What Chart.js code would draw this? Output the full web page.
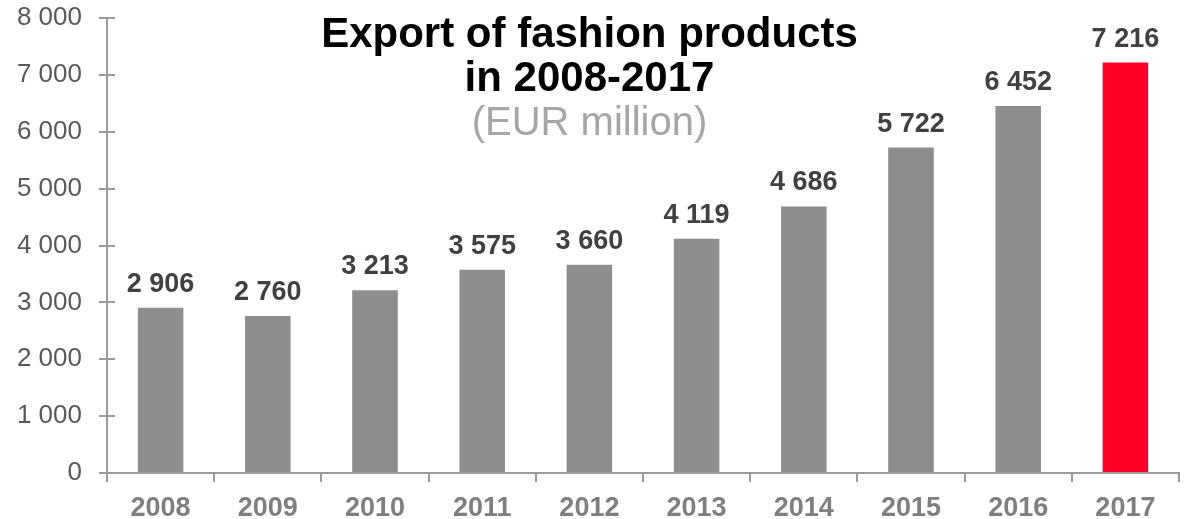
<!DOCTYPE html>
<html>
<head>
<meta charset="utf-8">
<script src="https://cdn.jsdelivr.net/npm/chart.js@4/dist/chart.umd.min.js"></script>
<style>
  html, body { margin: 0; padding: 0; background: #ffffff; }
  #wrap { width: 1189px; height: 519px; position: relative; }
</style>
</head>
<body>
<div id="wrap"><canvas id="chart" width="1189" height="519"></canvas></div>
<script>
// Export of fashion products, EUR million
const years = ['2008', '2009', '2010', '2011', '2012', '2013', '2014', '2015', '2016', '2017'];
const exportValues = [2906, 2760, 3213, 3575, 3660, 4119, 4686, 5722, 6452, 7216];
const titleLines = ['Export of fashion products', 'in 2008-2017'];
const subtitleText = '(EUR million)';
const yMin = 0;
const yMax = 8000;
const yStep = 1000;

const FONT = '"Liberation Sans", Arial, sans-serif';
const GREY_BAR = '#8f8e8c';
const RED_BAR = '#ff0029';
const AXIS = '#9a9a9a';

const barColors = years.map((y, i) => i === years.length - 1 ? RED_BAR : GREY_BAR);

// thousands separated by a space: 7216 -> "7 216"
function spaced(v) {
  return String(v).replace(/\B(?=(\d{3})+(?!\d))/g, ' ');
}

// short tick stubs on the inner side of the value axis
const innerTicks = {
  id: 'innerTicks',
  afterDraw(chart) {
    const y = chart.scales.y;
    const ctx = chart.ctx;
    ctx.save();
    ctx.strokeStyle = AXIS;
    ctx.lineWidth = 2;
    y.ticks.forEach(t => {
      const py = Math.round(y.getPixelForValue(t.value));
      ctx.beginPath();
      ctx.moveTo(y.right, py);
      ctx.lineTo(y.right + 8, py);
      ctx.stroke();
    });
    ctx.restore();
  }
};

// value labels above each bar
const valueLabels = {
  id: 'valueLabels',
  afterDatasetsDraw(chart) {
    const ctx = chart.ctx;
    const meta = chart.getDatasetMeta(0);
    ctx.save();
    ctx.font = 'bold 27px ' + FONT;
    ctx.fillStyle = '#404040';
    ctx.textAlign = 'center';
    ctx.textBaseline = 'alphabetic';
    meta.data.forEach((bar, i) => {
      ctx.fillText(spaced(exportValues[i]), bar.x, bar.y - 16);
    });
    ctx.restore();
  }
};

// centred heading with the unit line beneath it
const heading = {
  id: 'heading',
  afterDraw(chart) {
    const ctx = chart.ctx;
    const cx = chart.width / 2 - 5;
    ctx.save();
    ctx.textAlign = 'center';
    ctx.textBaseline = 'alphabetic';
    ctx.fillStyle = '#000000';
    ctx.font = 'bold 42px ' + FONT;
    ctx.fillText(titleLines[0], cx, 47);
    ctx.fillText(titleLines[1], cx, 91);
    ctx.fillStyle = '#a6a6a6';
    ctx.font = '40px ' + FONT;
    ctx.fillText(subtitleText, cx, 135);
    ctx.restore();
  }
};

new Chart(document.getElementById('chart'), {
  type: 'bar',
  data: {
    labels: years,
    datasets: [{
      data: exportValues,
      backgroundColor: barColors,
      borderWidth: 0,
      barPercentage: 0.425,
      categoryPercentage: 1.0
    }]
  },
  options: {
    responsive: false,
    animation: false,
    layout: { padding: { left: 0, right: 10, top: 18, bottom: 0 } },
    plugins: {
      legend: { display: false },
      tooltip: { enabled: false },
      title: { display: false }
    },
    scales: {
      x: {
        offset: true,
        afterFit(scale) { scale.height = 46; },
        grid: {
          display: true,
          drawOnChartArea: false,
          drawTicks: true,
          tickLength: 9,
          offset: true,
          color: AXIS,
          lineWidth: 2
        },
        border: { display: true, color: AXIS, width: 2 },
        ticks: {
          color: '#7f7f7f',
          font: { family: FONT, size: 27, weight: 'bold' },
          padding: 10,
          maxRotation: 0
        }
      },
      y: {
        min: yMin,
        max: yMax,
        afterFit(scale) {
          scale.width = 107;
          scale.paddingTop = 0;
          scale.paddingBottom = 0;
        },
        grid: {
          display: true,
          drawOnChartArea: false,
          drawTicks: true,
          tickLength: 8,
          color: AXIS,
          lineWidth: 2
        },
        border: { display: true, color: AXIS, width: 2 },
        ticks: {
          stepSize: yStep,
          color: '#595959',
          font: { family: FONT, size: 26 },
          padding: 17,
          callback: v => spaced(v)
        }
      }
    }
  },
  plugins: [innerTicks, valueLabels, heading]
});
</script>
</body>
</html>
